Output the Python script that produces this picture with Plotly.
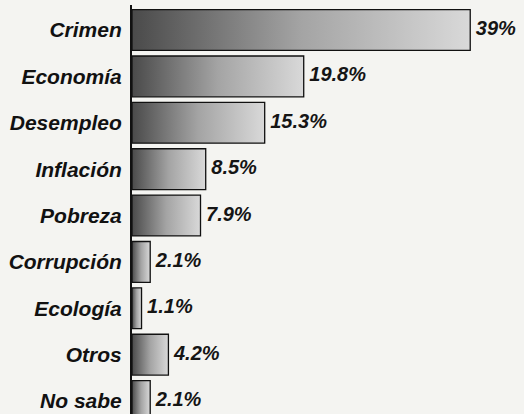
import plotly.graph_objects as go

categories = ["Crimen", "Economía", "Desempleo", "Inflación", "Pobreza",
              "Corrupción", "Ecología", "Otros", "No sabe"]
values = [39, 19.8, 15.3, 8.5, 7.9, 2.1, 1.1, 4.2, 2.1]
value_labels = [f"{v:g}%" for v in values]

positions = list(range(len(categories)))
half = 0.44
shade = [[0, "#4a4a4a"], [0.5, "#a4a4a4"], [1, "#d9d9d9"]]

fig = go.Figure()

# one filled shape per bar so each gets its own left-to-right shading
for pos, val in zip(positions, values):
    fig.add_trace(go.Scatter(
        x=[0, val, val, 0, 0],
        y=[pos - half, pos - half, pos + half, pos + half, pos - half],
        mode="lines",
        fill="toself",
        fillgradient=dict(type="horizontal", colorscale=shade),
        line=dict(color="#111111", width=1.3),
        hoverinfo="skip",
        showlegend=False,
    ))

fig.add_trace(go.Scatter(
    x=values,
    y=positions,
    mode="text",
    text=[" " + t for t in value_labels],
    textposition="middle right",
    textfont=dict(family="Liberation Sans, Arial, sans-serif", size=20,
                  color="#151515", style="italic", weight="bold"),
    hoverinfo="skip",
    showlegend=False,
))

fig.update_layout(
    width=524,
    height=414,
    margin=dict(l=132, r=0, t=5, b=0, autoexpand=False),
    paper_bgcolor="#f4f4f1",
    plot_bgcolor="#f4f4f1",
    showlegend=False,
)

fig.update_xaxes(
    range=[0, 45.2],
    visible=False,
    showgrid=False,
    zeroline=False,
    automargin=False,
)

fig.update_yaxes(
    range=[8.28, -0.54],
    tickvals=positions,
    ticktext=categories,
    tickfont=dict(family="Liberation Sans, Arial, sans-serif", size=21,
                  color="#111111", weight="bold", style="italic"),
    ticks="",
    ticklabelstandoff=4,
    showline=True,
    linecolor="#111111",
    linewidth=2,
    showgrid=False,
    zeroline=False,
    automargin=False,
)

# drop the page's default body margin so the figure fills the window
fig.write_html(
    "out.html",
    config={"displayModeBar": False},
    post_script="document.body.style.margin='0';document.body.style.overflow='hidden';",
)
